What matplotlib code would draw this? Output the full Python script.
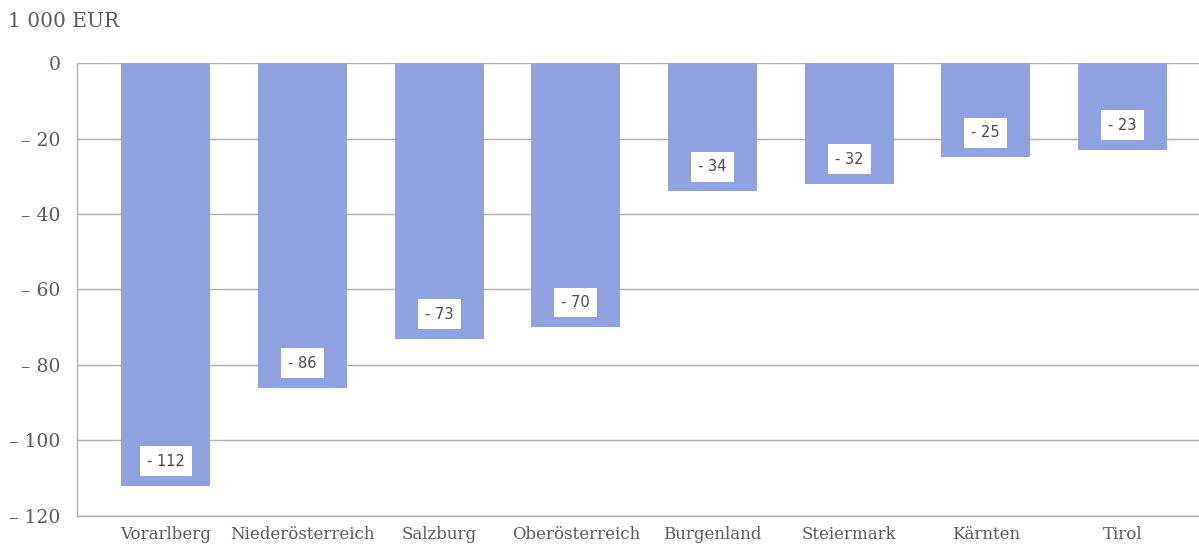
import matplotlib.pyplot as plt
import numpy as np

regions = ["Vorarlberg", "Niederösterreich", "Salzburg", "Oberösterreich",
           "Burgenland", "Steiermark", "Kärnten", "Tirol"]
values = [-112, -86, -73, -70, -34, -32, -25, -23]
yticks = [0, -20, -40, -60, -80, -100, -120]

bar_color = "#8ea1e0"
text_color = "#5a5a5a"
line_color = "#b3acab"

plt.rcParams["font.family"] = ["DejaVu Serif"]

fig = plt.figure(figsize=(11.99, 5.46), dpi=100)
ax = fig.add_axes([0.0642, 0.055, 0.9358, 0.8296])

x = np.arange(len(regions))
ax.bar(x, values, width=0.65, color=bar_color, zorder=2)

# value labels in white boxes near the bar ends
for xi, v in zip(x, values):
    ax.text(xi, v + 6.5, "- %d" % abs(v), ha="center", va="center",
            fontsize=10.5, color="#4a4a4a", family="DejaVu Sans", zorder=3,
            bbox=dict(boxstyle="square,pad=0.5", fc="white", ec="none"))

ax.set_xlim(-0.65, 7.56)
ax.set_ylim(-120, 0)
ax.set_yticks(yticks)
ax.set_yticklabels(["0" if t == 0 else "– %d" % abs(t) for t in yticks])
ax.set_xticks(x)
ax.set_xticklabels(regions)

ax.grid(axis="y", color=line_color, linewidth=1, zorder=1)
for s in ["top", "right"]:
    ax.spines[s].set_visible(False)
for s in ["left", "bottom"]:
    ax.spines[s].set_color(line_color)
    ax.spines[s].set_linewidth(1)

ax.tick_params(axis="y", length=0, pad=12, labelsize=13.5, labelcolor=text_color)
ax.tick_params(axis="x", length=0, pad=7, labelsize=12, labelcolor=text_color)

fig.text(0.007, 0.96, "1 000 EUR", fontsize=14.5, color=text_color, va="center")

fig.savefig("out.png", dpi=100)
